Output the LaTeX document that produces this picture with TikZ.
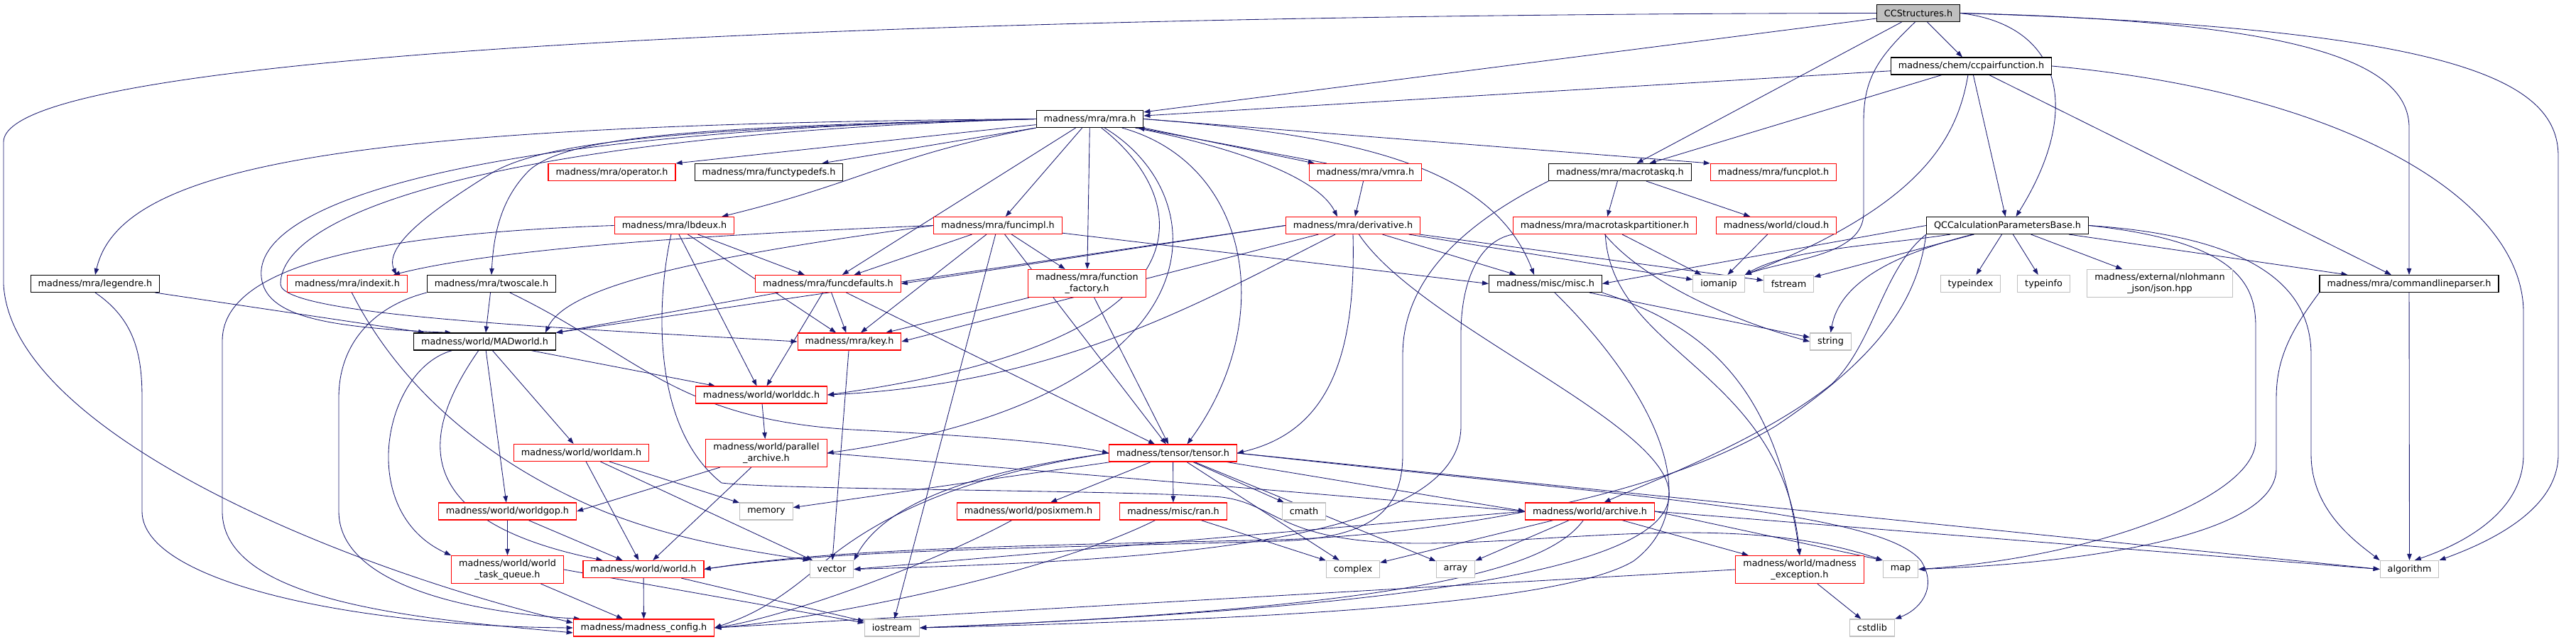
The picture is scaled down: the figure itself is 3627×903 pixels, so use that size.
\documentclass[tikz,border=0pt]{standalone}
\usepackage{fontspec}
\setmainfont{DejaVu Sans}
\usetikzlibrary{arrows.meta,backgrounds}
\definecolor{edgeblue}{HTML}{191970}
\definecolor{boxgray}{HTML}{BFBFBF}
\begin{document}
\begin{tikzpicture}[x=1pt, y=-1pt,
  hfile/.style={draw, line width=1.1pt, fill=white, inner xsep=10.5pt, inner ysep=2pt,
    minimum height=24pt, align=center, font=\fontsize{12.8}{15.3}\selectfont},
  hroot/.style={hfile, draw=black, fill=boxgray},
  hblack/.style={hfile, draw=black},
  hred/.style={hfile, draw=red},
  hsys/.style={hfile, draw=boxgray},
  twoline/.style={minimum height=39pt},
  dep/.style={edgeblue, line width=0.85pt, -{Triangle[length=9pt,width=6.5pt]}}]

  \useasboundingbox (0,0) rectangle (3627,903);

  % Top rows
  \node[hroot]  (cc)       at (2701,18.5)   {CCStructures.h};
  \node[hblack] (ccpair)   at (2775.5,93)   {madness/chem/ccpairfunction.h};
  \node[hblack] (mra)      at (1534.5,167.5) {madness/mra/mra.h};
  \node[hred]   (oper)     at (861.5,242.5) {madness/mra/operator.h};
  \node[hblack] (ftdef)    at (1082.5,242.5) {madness/mra/functypedefs.h};
  \node[hred]   (vmra)     at (1922.5,242.5) {madness/mra/vmra.h};
  \node[hblack] (mtq)      at (2281,242.5)  {madness/mra/macrotaskq.h};
  \node[hred]   (fplot)    at (2497,242.5)  {madness/mra/funcplot.h};

  \node[hred]   (lbdeux)   at (949.5,317.5) {madness/mra/lbdeux.h};
  \node[hred]   (fimpl)    at (1405,317.5)  {madness/mra/funcimpl.h};
  \node[hred]   (deriv)    at (1905,317.5)  {madness/mra/derivative.h};
  \node[hred]   (mtp)      at (2259.5,317.5) {madness/mra/macrotaskpartitioner.h};
  \node[hred]   (cloud)    at (2501,317.5)  {madness/world/cloud.h};
  \node[hblack] (qcc)      at (2826.5,317.5) {QCCalculationParametersBase.h};

  \node[hblack] (legendre) at (134,399.5)   {madness/mra/legendre.h};
  \node[hred]   (indexit)  at (489,399.5)   {madness/mra/indexit.h};
  \node[hblack] (twoscale) at (692,399.5)   {madness/mra/twoscale.h};
  \node[hred]   (fdef)     at (1166,399.5)  {madness/mra/funcdefaults.h};
  \node[hred, twoline] (ffact) at (1530.5,399) {madness/mra/function\\\_factory.h};
  \node[hblack] (misc)     at (2176,399.5)  {madness/misc/misc.h};
  \node[hsys]   (iomanip)  at (2420,399.5)  {iomanip};
  \node[hsys]   (fstream)  at (2518.5,399.5) {fstream};
  \node[hsys]   (typeindex) at (2774.5,399.5) {typeindex};
  \node[hsys]   (typeinfo) at (2877.5,399.5) {typeinfo};
  \node[hsys, twoline] (json) at (3041,399) {madness/external/nlohmann\\\_json/json.hpp};
  \node[hblack] (clp)      at (3392,399.5)  {madness/mra/commandlineparser.h};

  % Middle rows
  \node[hblack] (madworld) at (682.5,481)   {madness/world/MADworld.h};
  \node[hred]   (key)      at (1196,481)    {madness/mra/key.h};
  \node[hsys]   (string)   at (2577.5,481)  {string};
  \node[hred]   (worlddc)  at (1072,556)    {madness/world/worlddc.h};
  \node[hred]   (worldam)  at (818.5,637.5) {madness/world/worldam.h};
  \node[hred, twoline] (parch) at (1079,638) {madness/world/parallel\\\_archive.h};
  \node[hred]   (tensor)   at (1651.5,638)  {madness/tensor/tensor.h};

  % Bottom rows
  \node[hred]   (worldgop) at (714.5,720)   {madness/world/worldgop.h};
  \node[hsys]   (memory)   at (1079,720)    {memory};
  \node[hred]   (posix)    at (1448,720)    {madness/world/posixmem.h};
  \node[hred]   (ran)      at (1652,720)    {madness/misc/ran.h};
  \node[hsys]   (cmath)    at (1836,720)    {cmath};
  \node[hred]   (archive)  at (2238.5,720)  {madness/world/archive.h};
  \node[hred, twoline] (wtq) at (714.5,802) {madness/world/world\\\_task\_queue.h};
  \node[hred]   (world)    at (906,801.5)   {madness/world/world.h};
  \node[hsys]   (vector)   at (1171,801.5)  {vector};
  \node[hsys]   (complex)  at (1905,801.5)  {complex};
  \node[hsys]   (array)    at (2049.5,801.5) {array};
  \node[hred, twoline] (mexc) at (2534,802) {madness/world/madness\\\_exception.h};
  \node[hsys]   (map)      at (2676,801.5)  {map};
  \node[hsys]   (algorithm) at (3392.5,801.5) {algorithm};
  \node[hred]   (mconfig)  at (906.5,884)   {madness/madness\_config.h};
  \node[hsys]   (iostream) at (1256,884)    {iostream};
  \node[hsys]   (cstdlib)  at (2636,884)    {cstdlib};

  \begin{pgfonlayer}{background}
  \fill[white] (0,0) rectangle (3627,903);

  % CCStructures.h
  \draw[dep] (cc.west) .. controls (1500,20) and (5,60) .. (5,200) -- (5,400) .. controls (15,600) and (450,790) .. (mconfig.176);
  \draw[dep] (cc) -- (mra);
  \draw[dep] (cc) -- (mtq);
  \draw[dep] (cc) -- (ccpair);
  \draw[dep] (cc.250) .. controls (2645,80) and (2624,110) .. (2624,170) -- (2624,300) .. controls (2624,360) and (2520,365) .. (iomanip.north east);
  \draw[dep] (cc.east) .. controls (2900,35) and (2935,150) .. ([xshift=12pt]qcc.north);
  \draw[dep] (cc.east) .. controls (3250,30) and (3392,90) .. (3392,180) -- (clp.north);
  \draw[dep] (cc.east) .. controls (3450,40) and (3602,110) .. (3602,220) -- (3602,640) .. controls (3602,720) and (3500,765) .. (algorithm.north east);

  % ccpairfunction.h
  \draw[dep] (ccpair) -- (mra);
  \draw[dep] (ccpair) -- (mtq);
  \draw[dep] (ccpair) -- (qcc);
  \draw[dep] (ccpair) -- (clp);
  \draw[dep] (ccpair.250) .. controls (2755,200) and (2700,290) .. (iomanip.north east);
  \draw[dep] (ccpair.east) .. controls (3300,130) and (3553,280) .. (3553,440) -- (3553,640) .. controls (3553,720) and (3470,765) .. (algorithm.60);

  % mra.h
  \draw[dep] (mra.west) .. controls (500,175) and (170,230) .. (legendre.north);
  \draw[dep] (mra.west) .. controls (1000,180) and (770,195) .. (690,245) .. controls (610,295) and (540,345) .. ([xshift=-16pt]indexit.north east);
  \draw[dep] (mra.west) .. controls (1000,178) and (800,190) .. (745,240) .. controls (705,280) and (695,330) .. (twoscale.north);
  \draw[dep] (mra.west) .. controls (600,185) and (340,300) .. (370,400) .. controls (385,450) and (480,462) .. (madworld.165);
  \draw[dep] (mra.west) .. controls (700,190) and (395,300) .. (395,400) .. controls (395,445) and (800,462) .. (key.west);
  \draw[dep] (mra) -- (oper.north east);
  \draw[dep] (mra) -- ([xshift=-30pt]ftdef.north east);
  \draw[dep] (mra.south west) .. controls (1250,220) and (1220,255) .. ([xshift=-18pt]lbdeux.north east);
  \draw[dep] (mra) -- (fimpl);
  \draw[dep] (mra) -- (fdef);
  \draw[dep] (mra) -- (ffact);
  \draw[dep] (mra) .. controls (1680,280) and (1720,480) .. (worlddc.east);
  \draw[dep] (mra) .. controls (1720,280) and (1720,560) .. (parch.east);
  \draw[dep] (mra) .. controls (1760,230) and (1800,450) .. ([xshift=20pt]tensor.north);
  \draw[dep] (mra.south east) -- ([xshift=8pt]vmra.north west);
  \draw[dep] ([xshift=25pt]vmra.north west) -- ([xshift=-8pt]mra.south east);
  \draw[dep] (mra) .. controls (1700,200) and (1850,240) .. ([xshift=-22pt]deriv.north);
  \draw[dep] (mra.east) .. controls (1900,190) and (2100,230) .. ([xshift=-16pt]misc.north);
  \draw[dep] (mra.east) -- (fplot.north west);
  \draw[dep] (vmra) -- (deriv);

  % lbdeux.h
  \draw[dep] (lbdeux.west) .. controls (500,330) and (313,380) .. (313,480) -- (313,720) .. controls (313,850) and (600,872) .. (mconfig.184);
  \draw[dep] (lbdeux) -- (key);
  \draw[dep] (lbdeux) -- (worlddc);
  \draw[dep] (lbdeux) -- (fdef);
  \draw[dep] (lbdeux.250) .. controls (925,420) and (915,600) .. (1016,680) .. controls (1100,690) and (1600,690) .. (1720,700) .. controls (1800,710) and (1800,765) .. (2000,765) .. controls (2200,765) and (2450,720) .. (map.north west);

  % funcimpl.h
  \draw[dep] (fimpl.west) .. controls (1000,330) and (700,350) .. ([xshift=-20pt]indexit.north east);
  \draw[dep] (fimpl.west) .. controls (1000,360) and (800,400) .. ([xshift=-15pt]madworld.north east);
  \draw[dep] (fimpl) -- (fdef);
  \draw[dep] (fimpl) -- (ffact);
  \draw[dep] (fimpl) -- (key);
  \draw[dep] (fimpl) -- (tensor);
  \draw[dep] (fimpl) -- (iostream);
  \draw[dep] (fimpl) -- (misc.west);

  % derivative.h
  \draw[dep] (deriv.west) -- (fdef.east);
  \draw[dep] (deriv.west) -- (madworld.north east);
  \draw[dep] (deriv) -- (key.east);
  \draw[dep] (deriv) .. controls (1700,420) and (1500,540) .. (worlddc.east);
  \draw[dep] (deriv.south) .. controls (1910,520) and (1860,610) .. (tensor.east);
  \draw[dep] (deriv) .. controls (2000,460) and (2360,600) .. (2350,700) .. controls (2340,800) and (2000,855) .. (iostream.east);
  \draw[dep] (deriv) -- (misc);
  \draw[dep] (deriv) -- (iomanip);
  \draw[dep] (deriv) -- (fstream);

  % macrotaskq.h, macrotaskpartitioner.h, cloud.h
  \draw[dep] (mtq) -- (mtp);
  \draw[dep] (mtq) -- (cloud);
  \draw[dep] (mtq.south west) .. controls (2050,320) and (1975,400) .. (1975,500) -- (1975,640) .. controls (1975,720) and (1930,758) .. (1800,762) .. controls (1450,772) and (1180,774) .. (world.east);
  \draw[dep] (mtp.south west) .. controls (2080,340) and (2057,400) .. (2057,470) -- (2057,600) .. controls (2057,770) and (1600,790) .. (vector.east);
  \draw[dep] (mtp) -- (iomanip);
  \draw[dep] (mtp.south) .. controls (2300,380) and (2400,440) .. (string.west);
  \draw[dep] (mtp) .. controls (2270,500) and (2510,520) .. (mexc.north);
  \draw[dep] (cloud) -- (iomanip);

  % QCCalculationParametersBase.h
  \draw[dep] (qcc.west) -- (misc.east);
  \draw[dep] (qcc) .. controls (2650,345) and (2520,350) .. (iomanip.north east);
  \draw[dep] (qcc) -- (fstream);
  \draw[dep] (qcc) .. controls (2660,360) and (2590,400) .. (string.north);
  \draw[dep] (qcc) -- (typeindex);
  \draw[dep] (qcc) -- (typeinfo);
  \draw[dep] (qcc) -- (json);
  \draw[dep] (qcc) -- (clp);
  \draw[dep] (qcc.east) .. controls (3150,340) and (3176,400) .. (3176,460) -- (3176,620) .. controls (3176,700) and (2950,785) .. (map.east);
  \draw[dep] (qcc.east) .. controls (3200,335) and (3254,420) .. (3254,500) -- (3254,640) .. controls (3254,720) and (3320,765) .. (algorithm.north west);
  \draw[dep] (qcc.south west) .. controls (2650,380) and (2640,480) .. (2580,540) .. controls (2480,620) and (2320,680) .. ([xshift=20pt]archive.north);
  \draw[dep] (qcc.south west) .. controls (2700,420) and (2650,500) .. (2500,600) .. controls (2300,720) and (1950,756) .. (1800,760) .. controls (1450,768) and (1180,772) .. (world.east);

  % commandlineparser.h, misc.h
  \draw[dep] (clp.south west) .. controls (3230,460) and (3205,500) .. (3205,560) -- (3205,660) .. controls (3205,760) and (2900,795) .. (map.east);
  \draw[dep] (clp) -- (algorithm);
  \draw[dep] (misc) .. controls (2300,520) and (2420,700) .. (2300,790) .. controls (2200,850) and (1800,872) .. (iostream.east);
  \draw[dep] (misc) -- (string);
  \draw[dep] (misc.south east) .. controls (2400,460) and (2500,540) .. (mexc.north);

  % world headers
  \draw[dep] (madworld) -- (worlddc);
  \draw[dep] (madworld) -- (worldam);
  \draw[dep] (madworld) -- (worldgop);
  \draw[dep] (madworld) .. controls (540,520) and (500,720) .. (wtq.north west);
  \draw[dep] (madworld) .. controls (600,600) and (560,730) .. ([xshift=28pt]world.north west);
  \draw[dep] (key) -- (vector);
  \draw[dep] (worlddc) -- (parch);
  \draw[dep] (parch) -- (worldgop.east);
  \draw[dep] (parch) -- (world);
  \draw[dep] (parch.east) -- (archive.west);
  \draw[dep] (worldam) -- (world);
  \draw[dep] (worldam) -- (vector);
  \draw[dep] (worldam) -- (memory);
  \draw[dep] (worldgop) -- (wtq);
  \draw[dep] (worldgop) -- (world);
  \draw[dep] (wtq) -- (mconfig);
  \draw[dep] (wtq.east) -- (iostream);
  \draw[dep] (world) -- (mconfig);
  \draw[dep] (world) -- (iostream);

  % tensor.h
  \draw[dep] (tensor) -- (memory);
  \draw[dep] (tensor) -- (posix);
  \draw[dep] (tensor) -- (ran);
  \draw[dep] (tensor) -- (cmath);
  \draw[dep] (tensor) -- (archive.west);
  \draw[dep] (tensor) -- (complex);
  \draw[dep] (tensor) -- (array);
  \draw[dep] (tensor.west) .. controls (1400,660) and (1250,700) .. (vector.north east);
  \draw[dep] (tensor.west) .. controls (1350,670) and (1230,730) .. (1150,800) .. controls (1080,860) and (1040,872) .. (mconfig.east);
  \draw[dep] (tensor.east) -- (algorithm.west);
  \draw[dep] (tensor.east) .. controls (2300,700) and (2650,720) .. (2705,790) .. controls (2730,830) and (2700,860) .. (cstdlib.north east);
  \draw[dep] (posix) .. controls (1300,800) and (1100,870) .. (mconfig.east);
  \draw[dep] (ran) .. controls (1450,820) and (1100,878) .. (mconfig.east);
  \draw[dep] (ran) -- (complex);

  % archive.h, madness_exception.h
  \draw[dep] (archive) -- (complex);
  \draw[dep] (archive) -- (array);
  \draw[dep] (archive) -- (mexc);
  \draw[dep] (archive.east) -- (map.north west);
  \draw[dep] (archive.east) -- (algorithm.west);
  \draw[dep] (archive.west) -- (vector.east);
  \draw[dep] (archive) .. controls (2180,800) and (2000,855) .. (iostream.east);
  \draw[dep] (mexc.west) -- (mconfig.east);
  \draw[dep] (mexc) -- (cstdlib);

  % legendre.h, indexit.h, twoscale.h
  \draw[dep] (legendre) -- (madworld);
  \draw[dep] (legendre.south) .. controls (190,450) and (200,500) .. (200,560) -- (200,720) .. controls (200,820) and (500,882) .. (mconfig.west);
  \draw[dep] (indexit) .. controls (560,540) and (680,650) .. (850,720) .. controls (950,760) and (1050,775) .. (vector.north west);
  \draw[dep] (twoscale) -- (madworld);
  \draw[dep] (twoscale) .. controls (900,500) and (950,590) .. (1200,605) .. controls (1400,615) and (1500,625) .. (tensor.west);
  \draw[dep] (twoscale.south west) .. controls (530,430) and (477,480) .. (477,560) -- (477,720) .. controls (477,820) and (650,862) .. (mconfig.172);

  % funcdefaults.h, function_factory.h
  \draw[dep] (fdef) -- (key);
  \draw[dep] (fdef) -- (worlddc);
  \draw[dep] (fdef) -- (tensor);
  \draw[dep] (fdef) -- (madworld.north east);
  \draw[dep] (ffact) -- (tensor);
  \draw[dep] (ffact) -- (key);
  \end{pgfonlayer}

\end{tikzpicture}
\end{document}
